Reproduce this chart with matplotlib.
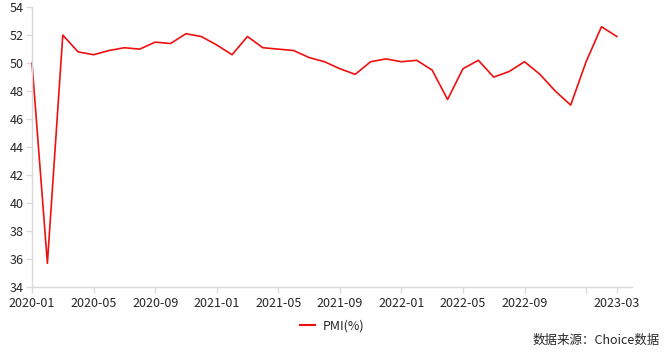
import matplotlib
matplotlib.use("Agg")
import matplotlib.pyplot as plt
from matplotlib.lines import Line2D

plt.rcParams['font.family'] = ['Noto Sans CJK SC', 'DejaVu Sans']

months = [f"{y}-{m:02d}" for y in (2020, 2021, 2022) for m in range(1, 13)] + ["2023-01", "2023-02", "2023-03"]
pmi = [50.0, 35.7, 52.0, 50.8, 50.6, 50.9, 51.1, 51.0, 51.5, 51.4, 52.1, 51.9,
       51.3, 50.6, 51.9, 51.1, 51.0, 50.9, 50.4, 50.1, 49.6, 49.2, 50.1, 50.3,
       50.1, 50.2, 49.5, 47.4, 49.6, 50.2, 49.0, 49.4, 50.1, 49.2, 48.0, 47.0,
       50.1, 52.6, 51.9]
yticks = list(range(34, 55, 2))

fig = plt.figure(figsize=(6.64, 3.57), dpi=100)
ax = fig.add_axes([0.0482, 0.196, 0.904, 0.784])

x = list(range(len(months)))
ax.plot(x, pmi, color='#ee1010', linewidth=1.2, label='PMI(%)', clip_on=False)

tick_pos = list(range(0, len(months), 4)) + [len(months) - 1]
tick_lab = [months[i] if i != 36 else '' for i in tick_pos]
ax.set_xticks(tick_pos)
ax.set_xticklabels(tick_lab)
ax.set_xlim(0, 39)
ax.set_ylim(34, 54)
ax.set_yticks(yticks)

for s in ('top', 'right'):
    ax.spines[s].set_visible(False)
for s in ('left', 'bottom'):
    ax.spines[s].set_color('#d9d9d9')
    ax.spines[s].set_linewidth(1)
ax.tick_params(axis='both', colors='#d9d9d9', labelcolor='#262626', labelsize=9, length=4, width=1)
ax.tick_params(axis='y', pad=2)
ax.tick_params(axis='x', pad=3)

handle = Line2D([], [], color='#ee1010', linewidth=1.5)
fig.legend([handle], ['PMI(%)'], loc='center', bbox_to_anchor=(0.5, 0.087),
           frameon=False, fontsize=9, handlelength=1.2, handletextpad=0.6,
           labelcolor='#262626')
fig.text(0.994, 0.047, '数据来源：Choice数据', ha='right', va='center', fontsize=9, color='#262626')

fig.savefig('out.png', dpi=100)
